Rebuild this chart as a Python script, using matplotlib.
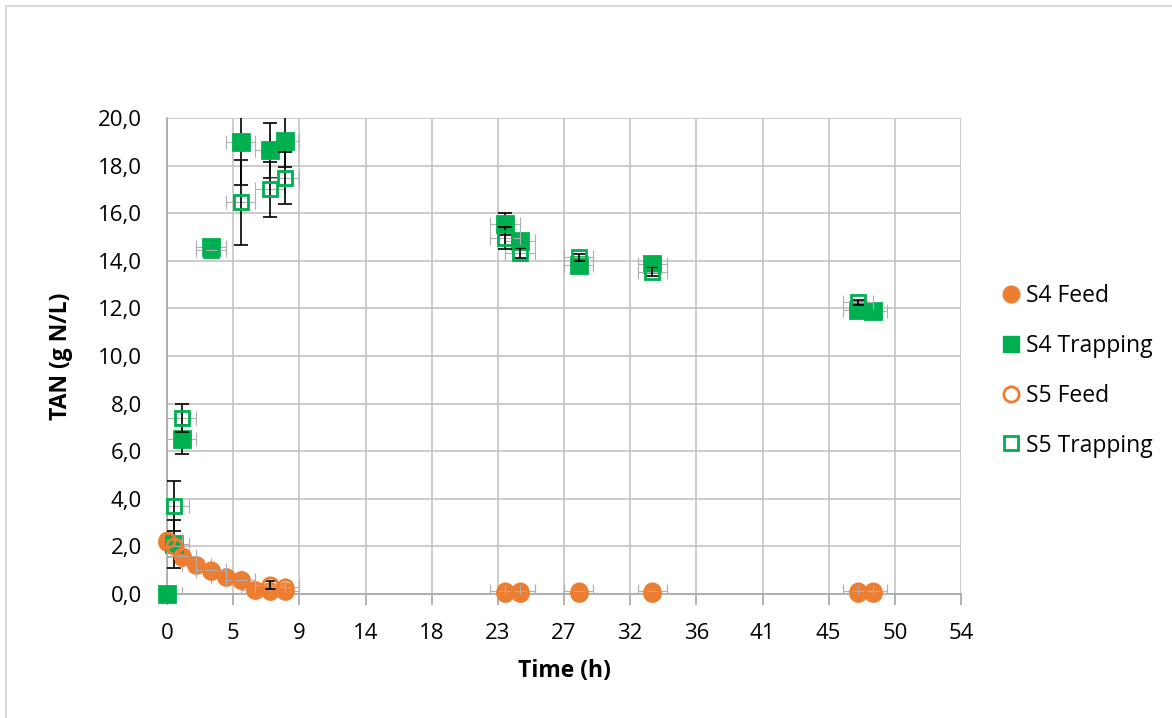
import matplotlib
matplotlib.use("Agg")
import matplotlib.pyplot as plt
from matplotlib.lines import Line2D

# --- data ---
t_s4_feed = [0, 1, 2, 3, 4, 5, 6, 7, 8, 23, 24, 28, 33, 47, 48]
s4_feed = [2.2, 1.55, 1.2, 0.98, 0.72, 0.6, 0.18, 0.14, 0.14, 0.05, 0.05, 0.05, 0.05, 0.05, 0.05]
s4_feed_err = [0, 0, 0, 0, 0, 0, 0, 0, 0, 0, 0, 0, 0, 0, 0]

t_s4_trap = [0, 0.5, 1, 3, 5, 7, 8, 23, 24, 28, 33, 47, 48]
s4_trap = [0.0, 2.1, 6.5, 14.6, 19.0, 18.65, 19.05, 15.55, 14.85, 13.82, 13.88, 11.92, 11.9]
s4_trap_err = [0.0, 1.0, 0.6, 0.05, 1.8, 1.15, 1.1, 0.45, 0.2, 0.15, 0.2, 0.1, 0.1]

t_s5_feed = [0, 0.5, 1, 3, 5, 7, 8, 23, 24, 28, 33, 47, 48]
s5_feed = [2.25, 2.0, 1.6, 1.0, 0.6, 0.38, 0.3, 0.14, 0.14, 0.14, 0.12, 0.12, 0.12]
s5_feed_err = [0, 0, 0, 0, 0, 0.15, 0, 0, 0, 0, 0, 0, 0]

t_s5_trap = [0, 0.5, 1, 3, 5, 7, 8, 23, 24, 28, 33, 47]
s5_trap = [0.0, 3.7, 7.4, 14.45, 16.45, 17.0, 17.48, 14.95, 14.33, 14.15, 13.55, 12.25]
s5_trap_err = [0.0, 1.05, 0.6, 0.0, 1.8, 1.15, 1.1, 0.45, 0.2, 0.15, 0.2, 0.1]

time_err = 1.0

x_ticks = [0, 4.5, 9, 13.5, 18, 22.5, 27, 31.5, 36, 40.5, 45, 49.5, 54]
x_labels = ["0", "5", "9", "14", "18", "23", "27", "32", "36", "41", "45", "50", "54"]
y_ticks = [0, 2, 4, 6, 8, 10, 12, 14, 16, 18, 20]

ORANGE = "#ED7D31"
GREEN = "#00B050"
GRID = "#c4c4c4"

plt.rcParams["font.family"] = ["Open Sans", "DejaVu Sans"]

fig = plt.figure(figsize=(11.72, 7.18), dpi=100)
W, H = 1172, 718
ax = fig.add_axes([167 / W, (H - 594) / H, (961 - 167) / W, (594 - 118) / H])

# chart border (top and left visible in the reference)
fig.add_artist(Line2D([5.5 / W, 1.0], [1 - 5.5 / H, 1 - 5.5 / H], color="#d9d9d9", lw=1.5))
fig.add_artist(Line2D([5.5 / W, 5.5 / W], [0, 1 - 5.5 / H], color="#d9d9d9", lw=1.5))

series = [
    (t_s4_feed, s4_feed, s4_feed_err, "o", ORANGE, ORANGE, "S4 Feed", 11.5),
    (t_s4_trap, s4_trap, s4_trap_err, "s", GREEN, GREEN, "S4 Trapping", 11),
    (t_s5_feed, s5_feed, s5_feed_err, "o", ORANGE, "none", "S5 Feed", 11),
    (t_s5_trap, s5_trap, s5_trap_err, "s", GREEN, "none", "S5 Trapping", 10.5),
]

z = 3
for t, y, yerr, mk, col, face, lab, ms in series:
    ax.errorbar(t, y, xerr=time_err, fmt="none", ecolor="#b0b0b0", elinewidth=0.8,
                capsize=5, capthick=0.8, zorder=z)
    te = [a for a, e in zip(t, yerr) if e > 0]
    ye = [b for b, e in zip(y, yerr) if e > 0]
    ee = [e for e in yerr if e > 0]
    if ee:
        ax.errorbar(te, ye, yerr=ee, fmt="none", ecolor="black", elinewidth=1.2,
                    capsize=5, capthick=1.2, zorder=z + 1)
    ax.plot(t, y, linestyle="none", marker=mk, markersize=ms, color=col,
            markerfacecolor=face, markeredgecolor=col, markeredgewidth=2,
            label=lab, zorder=z + 2, clip_on=False)
    z += 3

ax.set_xlim(0, 54)
ax.set_ylim(0, 20)
ax.set_xticks(x_ticks)
ax.set_xticklabels(x_labels)
ax.set_yticks(y_ticks)
ax.set_yticklabels([f"{v:.1f}".replace(".", ",") for v in y_ticks])

ax.grid(True, color=GRID, linewidth=1.2)
ax.set_axisbelow(True)
for side in ["top", "right"]:
    ax.spines[side].set_visible(False)
for side in ["left", "bottom"]:
    ax.spines[side].set_color("#a6a6a6")
    ax.spines[side].set_linewidth(1.2)
ax.tick_params(axis="x", length=8, width=1.2, color="#a6a6a6", labelsize=16, pad=13)
ax.tick_params(axis="y", length=0, labelsize=16, pad=18)

ax.set_xlabel("Time (h)", fontsize=16.5, fontweight="bold", labelpad=11)
ax.set_ylabel("TAN (g N/L)", fontsize=16.5, fontweight="bold", labelpad=18)

handles, labels = ax.get_legend_handles_labels()
leg_handles = [
    Line2D([], [], linestyle="none", marker="o", markersize=12, color=ORANGE),
    Line2D([], [], linestyle="none", marker="s", markersize=11, color=GREEN),
    Line2D([], [], linestyle="none", marker="o", markersize=11, markerfacecolor="none",
           markeredgecolor=ORANGE, markeredgewidth=2),
    Line2D([], [], linestyle="none", marker="s", markersize=10, markerfacecolor="none",
           markeredgecolor=GREEN, markeredgewidth=2),
]
fig.legend(leg_handles, labels, loc="center left", bbox_to_anchor=(992 / W, 1 - 371 / H),
           frameon=False, fontsize=16.5, handlelength=0.7, handletextpad=0.3,
           labelspacing=1.12, borderpad=0)

fig.savefig("out.png", dpi=100, facecolor="white")
print("Saved out.png")
